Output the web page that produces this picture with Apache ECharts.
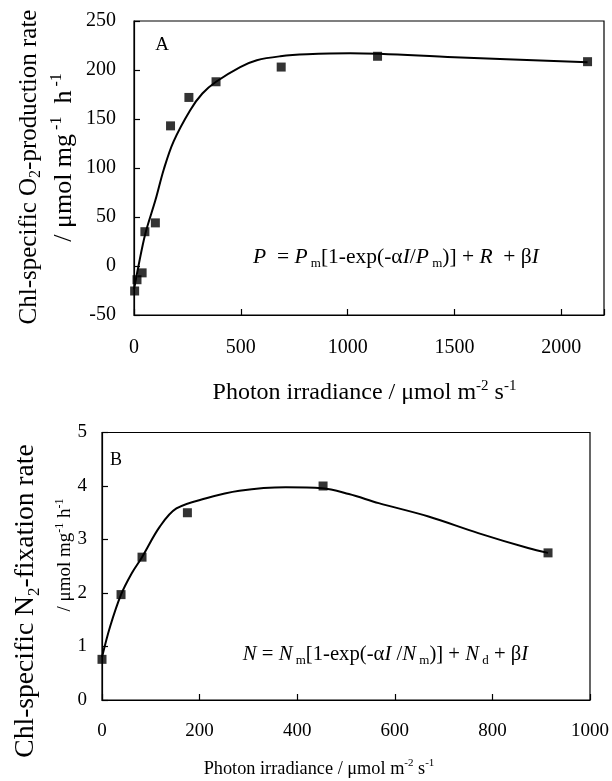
<!DOCTYPE html>
<html><head><meta charset="utf-8">
<script src="https://cdn.jsdelivr.net/npm/echarts@6/dist/echarts.min.js"></script>
<style>html,body{margin:0;padding:0;background:#fff}#c{width:612px;height:781px}</style>
</head><body><div id="c"></div>
<script>
// Panel A data (O2 production)
const aIrradiance = [3, 14, 38, 51, 100, 171, 257, 384, 689, 1140, 2123];
const aO2Rate = [-25.5, -14, -7, 35, 44, 143, 172, 188, 203, 214, 208.5];
const aFitIrradiance = [0, 20, 53, 100, 140, 185, 263, 320, 384, 497, 575, 685, 810, 1012, 1500, 2123];
const aFitO2Rate = [-24, -1, 33, 67, 99, 127, 159, 176, 188, 203, 210, 214, 216, 217, 213, 208];
// Panel B data (N2 fixation)
const bIrradiance = [0, 39, 82, 175, 453, 914];
const bN2Rate = [0.76, 1.97, 2.67, 3.50, 4.00, 2.75];
const bFitIrradiance = [0, 16.5, 39, 61, 82, 118.5, 152.5, 213.6, 281.5, 376.7, 451, 506, 567, 669, 771, 873, 914];
const bFitN2Rate = [0.80, 1.37, 1.97, 2.37, 2.67, 3.24, 3.58, 3.77, 3.91, 3.975, 3.96, 3.85, 3.68, 3.43, 3.12, 2.84, 2.75];

const FF = 'Liberation Serif, Times New Roman, serif';
function pairs(xs, ys) { return xs.map((x, i) => [x, ys[i]]); }
function rs(size, extra) { return Object.assign({fontFamily: FF, fontSize: size, fill: '#000'}, extra || {}); }
function richSet(S) {
  return {
    r: rs(S, {lineHeight: S * 1.2}),
    i: rs(S, {fontStyle: 'italic', lineHeight: S * 1.2}),
    sup: rs(Math.round(S * 0.62), {verticalAlign: 'top', lineHeight: S * 0.62}),
    sub: rs(Math.round(S * 0.62), {verticalAlign: 'bottom', lineHeight: S * 0.62})
  };
}
function txt(x, y, text, S, rot) {
  return {
    type: 'text', x: x, y: y, rotation: rot || 0, silent: true,
    style: Object.assign(rs(S), {text: text, align: 'center', verticalAlign: 'middle', rich: richSet(S)})
  };
}

const chart = echarts.init(document.getElementById('c'), null, {renderer: 'canvas'});
const axisCommon = {
  axisLine: {show: true, onZero: false, lineStyle: {color: '#000', width: 1.2}},
  axisTick: {show: true, inside: true, length: 6, lineStyle: {color: '#000', width: 1.2}},
  splitLine: {show: false}
};
chart.setOption({
  animation: false,
  backgroundColor: '#fff',
  grid: [
    {left: 134, top: 21, width: 470, height: 294, show: true, borderColor: '#000', borderWidth: 1.2},
    {left: 102, top: 432.5, width: 490.5, height: 267.5, show: true, borderColor: '#000', borderWidth: 1.2}
  ],
  xAxis: [
    Object.assign({}, axisCommon, {gridIndex: 0, type: 'value', min: 0, max: 2200, interval: 500,
      axisLabel: {margin: 23, fontFamily: FF, fontSize: 20, color: '#000', formatter: v => (v % 500 === 0 ? String(v) : '')}}),
    Object.assign({}, axisCommon, {gridIndex: 1, type: 'value', min: 0, max: 1000, interval: 200,
      axisLabel: {margin: 22, fontFamily: FF, fontSize: 19, color: '#000', formatter: v => String(v)}})
  ],
  yAxis: [
    Object.assign({}, axisCommon, {gridIndex: 0, type: 'value', min: -50, max: 250, interval: 50,
      axisLabel: {margin: 18, fontFamily: FF, fontSize: 20, color: '#000', formatter: v => String(v)}}),
    Object.assign({}, axisCommon, {gridIndex: 1, type: 'value', min: 0, max: 5, interval: 1,
      axisLabel: {margin: 15, fontFamily: FF, fontSize: 19, color: '#000', formatter: v => String(v)}})
  ],
  series: [
    {type: 'line', xAxisIndex: 0, yAxisIndex: 0, data: pairs(aFitIrradiance, aFitO2Rate), smooth: 0.35,
      showSymbol: false, symbol: 'none', lineStyle: {color: '#000', width: 2}, z: 2},
    {type: 'scatter', xAxisIndex: 0, yAxisIndex: 0, data: pairs(aIrradiance, aO2Rate), symbol: 'rect', symbolSize: 9,
      itemStyle: {color: '#000'}, z: 3},
    {type: 'line', xAxisIndex: 1, yAxisIndex: 1, data: pairs(bFitIrradiance, bFitN2Rate), smooth: 0.35,
      showSymbol: false, symbol: 'none', lineStyle: {color: '#000', width: 2}, z: 2},
    {type: 'scatter', xAxisIndex: 1, yAxisIndex: 1, data: pairs(bIrradiance, bN2Rate), symbol: 'rect', symbolSize: 9,
      itemStyle: {color: '#000'}, z: 3}
  ],
  graphic: [
    txt(162, 45, 'A', 19),
    txt(116, 460, 'B', 18),
    txt(396, 257, '{i|P}{r|  = }{i|P}{sub| m}{r|[1-exp(-α}{i|I}{r|/}{i|P}{sub| m}{r|)] + }{i|R}{r|  + β}{i|I}', 21.5),
    txt(385.5, 655, '{i|N}{r| = }{i|N}{sub| m}{r|[1-exp(-α}{i|I}{r| /}{i|N}{sub| m}{r|)] + }{i|N}{sub| d}{r| + β}{i|I}', 20.7),
    txt(364.5, 393, '{r|Photon irradiance / μmol m}{sup|-2}{r| s}{sup|-1}', 24),
    txt(319, 769, '{r|Photon irradiance / μmol m}{sup|-2}{r| s}{sup|-1}', 18.3),
    txt(29, 167, '{r|Chl-specific O}{sub|2}{r|-production rate}', 25, Math.PI / 2),
    txt(64, 157.5, '{r|/ μmol mg}{sup| -1}{r|  h}{sup| -1}', 26, Math.PI / 2),
    txt(26, 601, '{r|Chl-specific N}{sub|2}{r|-fixation rate}', 27.6, Math.PI / 2),
    txt(65, 555, '{r|/ μmol mg}{sup|-1}{r| h}{sup|-1}', 19, Math.PI / 2)
  ]
});
</script></body></html>
